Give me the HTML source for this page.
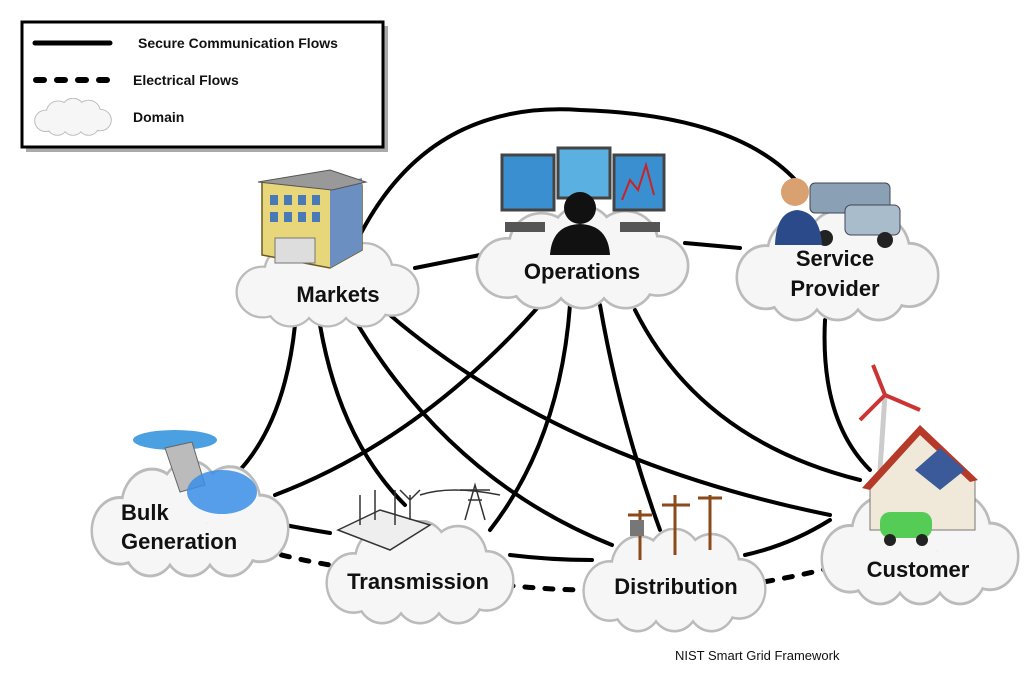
<!DOCTYPE html>
<html><head><meta charset="utf-8"><style>
html,body{margin:0;padding:0;background:#fff;width:1024px;height:674px;overflow:hidden}
svg text{font-family:"Liberation Sans",Arial,sans-serif;font-weight:bold;fill:#111}
</style></head><body>
<svg width="1024" height="674" viewBox="0 0 1024 674" xmlns="http://www.w3.org/2000/svg">
<defs>
<symbol id="cl" viewBox="0 0 200 100" preserveAspectRatio="none">
<g fill="#ccc" stroke="#bbb" stroke-width="3">
<circle cx="30" cy="60" r="28"/><circle cx="62" cy="38" r="30"/><circle cx="100" cy="30" r="29"/><circle cx="140" cy="36" r="30"/><circle cx="170" cy="58" r="28"/><circle cx="140" cy="72" r="26"/><circle cx="100" cy="72" r="26"/><circle cx="60" cy="72" r="26"/>
</g>
<g fill="#f6f6f6">
<circle cx="30" cy="60" r="27"/><circle cx="62" cy="38" r="29"/><circle cx="100" cy="30" r="28"/><circle cx="140" cy="36" r="29"/><circle cx="170" cy="58" r="27"/><circle cx="140" cy="72" r="25"/><circle cx="100" cy="72" r="25"/><circle cx="60" cy="72" r="25"/>
</g>
</symbol>
</defs>

<!-- legend -->
<rect x="26" y="26" width="362" height="126" fill="#555" opacity="0.5"/>
<rect x="22" y="22" width="361" height="125" fill="#fff" stroke="#000" stroke-width="3"/>
<line x1="35" y1="43" x2="110" y2="43" stroke="#000" stroke-width="5" stroke-linecap="round"/>
<line x1="36" y1="80" x2="112" y2="80" stroke="#000" stroke-width="6" stroke-linecap="round" stroke-dasharray="8 13"/>
<use href="#cl" x="34" y="98" width="78" height="38"/>
<text x="138" y="48" font-size="14">Secure Communication Flows</text>
<text x="133" y="85" font-size="14">Electrical Flows</text>
<text x="133" y="122" font-size="14">Domain</text>

<!-- connectors -->
<g fill="none" stroke="#000" stroke-width="4" stroke-linecap="round">
<path d="M360 235 Q 430 100 580 110 Q 740 115 800 185"/>
<path d="M415 268 L480 255"/>
<path d="M685 243 L740 248"/>
<path d="M295 325 Q 285 420 240 470"/>
<path d="M320 325 Q 340 440 405 505"/>
<path d="M355 320 Q 450 480 612 545"/>
<path d="M390 315 Q 560 460 830 515"/>
<path d="M540 305 Q 420 440 275 495"/>
<path d="M570 305 Q 560 440 490 530"/>
<path d="M600 305 Q 620 420 660 530"/>
<path d="M635 310 Q 700 440 860 480"/>
<path d="M825 320 Q 820 420 870 470"/>
<path d="M285 525 Q 300 528 330 533"/>
<path d="M510 555 Q 550 560 592 560"/>
<path d="M745 555 Q 790 545 830 520"/>
</g>
<g fill="none" stroke="#000" stroke-width="5" stroke-linecap="round" stroke-dasharray="8 12">
<path d="M262 550 Q 300 560 330 565"/>
<path d="M505 585 Q 550 590 590 590"/>
<path d="M745 585 Q 790 578 830 568"/>
</g>

<!-- clouds -->
<use href="#cl" x="235" y="238" width="185" height="90"/>
<use href="#cl" x="475" y="205" width="215" height="105"/>
<use href="#cl" x="735" y="210" width="205" height="112"/>
<use href="#cl" x="90" y="460" width="200" height="118"/>
<use href="#cl" x="325" y="520" width="190" height="105"/>
<use href="#cl" x="582" y="528" width="185" height="105"/>
<use href="#cl" x="820" y="488" width="200" height="118"/>

<!-- icons -->
<!-- markets building -->
<g>
<polygon points="262,182 330,172 362,185 362,250 330,268 262,255" fill="#e8d77a" stroke="#6a5a20" stroke-width="1.5"/>
<polygon points="330,186 362,178 362,250 330,268" fill="#6b8fc0"/>
<polygon points="258,182 330,170 366,182 332,190" fill="#999" stroke="#555"/>
<g fill="#4a7ab5"><rect x="270" y="195" width="8" height="10"/><rect x="284" y="195" width="8" height="10"/><rect x="298" y="195" width="8" height="10"/><rect x="312" y="195" width="8" height="10"/><rect x="270" y="212" width="8" height="10"/><rect x="284" y="212" width="8" height="10"/><rect x="298" y="212" width="8" height="10"/><rect x="312" y="212" width="8" height="10"/></g>
<rect x="275" y="238" width="40" height="25" fill="#ddd" stroke="#777"/>
</g>
<!-- operations monitors -->
<g>
<rect x="502" y="155" width="52" height="55" fill="#3a8fd0" stroke="#444" stroke-width="3"/>
<rect x="558" y="148" width="52" height="50" fill="#5ab0e0" stroke="#444" stroke-width="3"/>
<rect x="614" y="155" width="50" height="55" fill="#3a8fd0" stroke="#444" stroke-width="3"/>
<path d="M622 200 l8-20 l8 10 l8-25 l8 30" stroke="#c22" fill="none" stroke-width="2"/>
<rect x="505" y="222" width="40" height="10" fill="#555"/>
<rect x="620" y="222" width="40" height="10" fill="#555"/>
<circle cx="580" cy="208" r="16" fill="#111"/>
<path d="M550 255 Q 552 225 580 224 Q 608 225 610 255 Z" fill="#111"/>
</g>
<!-- service provider -->
<g>
<rect x="810" y="183" width="80" height="30" rx="5" fill="#8aa0b5" stroke="#445"/>
<rect x="845" y="205" width="55" height="30" rx="6" fill="#a9bccc" stroke="#445"/>
<circle cx="825" cy="238" r="8" fill="#222"/><circle cx="885" cy="240" r="8" fill="#222"/>
<circle cx="795" cy="192" r="14" fill="#d9a070"/>
<path d="M775 245 Q 776 212 797 210 Q 820 212 822 245 Z" fill="#2a4a8a"/>
</g>
<!-- bulk generation -->
<g>
<ellipse cx="175" cy="440" rx="42" ry="10" fill="#4aa0e0"/>
<polygon points="165,448 192,442 205,485 180,492" fill="#bbb" stroke="#666"/>
<ellipse cx="222" cy="492" rx="35" ry="22" fill="#3a8ee8" opacity="0.85"/>
</g>
<!-- transmission -->
<g stroke="#333" fill="none" stroke-width="1.5">
<polygon points="338,530 380,510 430,525 390,550" fill="#eee"/>
<path d="M360 525 v-30 M375 520 v-30 M395 525 v-35 M410 520 v-25 M400 490 l10 10 l10-10"/>
<path d="M465 520 l10-35 l10 35 M468 500 h14 M460 490 h30"/>
<path d="M420 495 Q 450 485 500 495"/>
</g>
<!-- distribution -->
<g stroke="#8a4a1a" stroke-width="3">
<line x1="675" y1="495" x2="675" y2="555"/><line x1="710" y1="495" x2="710" y2="550"/><line x1="640" y1="510" x2="640" y2="560"/>
<line x1="662" y1="505" x2="690" y2="505"/><line x1="698" y1="498" x2="722" y2="498"/><line x1="628" y1="515" x2="652" y2="515"/>
</g>
<rect x="630" y="520" width="14" height="16" fill="#777"/>
<!-- customer -->
<g>
<line x1="880" y1="470" x2="885" y2="395" stroke="#ccc" stroke-width="5"/>
<path d="M885 395 l-12-30 M885 395 l35 15 M885 395 l-25 25" stroke="#c33" stroke-width="4"/>
<polygon points="870,485 920,430 975,478 975,530 870,530" fill="#f0e8d8" stroke="#777"/>
<polygon points="862,488 920,425 978,480 970,482 920,435 870,490" fill="#b53a2a"/>
<polygon points="915,470 940,448 965,470 940,490" fill="#3a5a9a"/>
<rect x="880" y="512" width="52" height="26" rx="10" fill="#5c5"/>
<circle cx="890" cy="540" r="6" fill="#222"/><circle cx="922" cy="540" r="6" fill="#222"/>
</g>

<!-- labels -->
<g font-size="22">
<text x="338" y="302" text-anchor="middle">Markets</text>
<text x="582" y="279" text-anchor="middle">Operations</text>
<text x="835" y="266" text-anchor="middle">Service</text>
<text x="835" y="296" text-anchor="middle">Provider</text>
<text x="121" y="520">Bulk</text>
<text x="121" y="549">Generation</text>
<text x="418" y="589" text-anchor="middle">Transmission</text>
<text x="676" y="594" text-anchor="middle">Distribution</text>
<text x="918" y="577" text-anchor="middle">Customer</text>
</g>
<text x="675" y="660" font-size="13" style="font-weight:normal">NIST Smart Grid Framework</text>
</svg>
</body></html>
